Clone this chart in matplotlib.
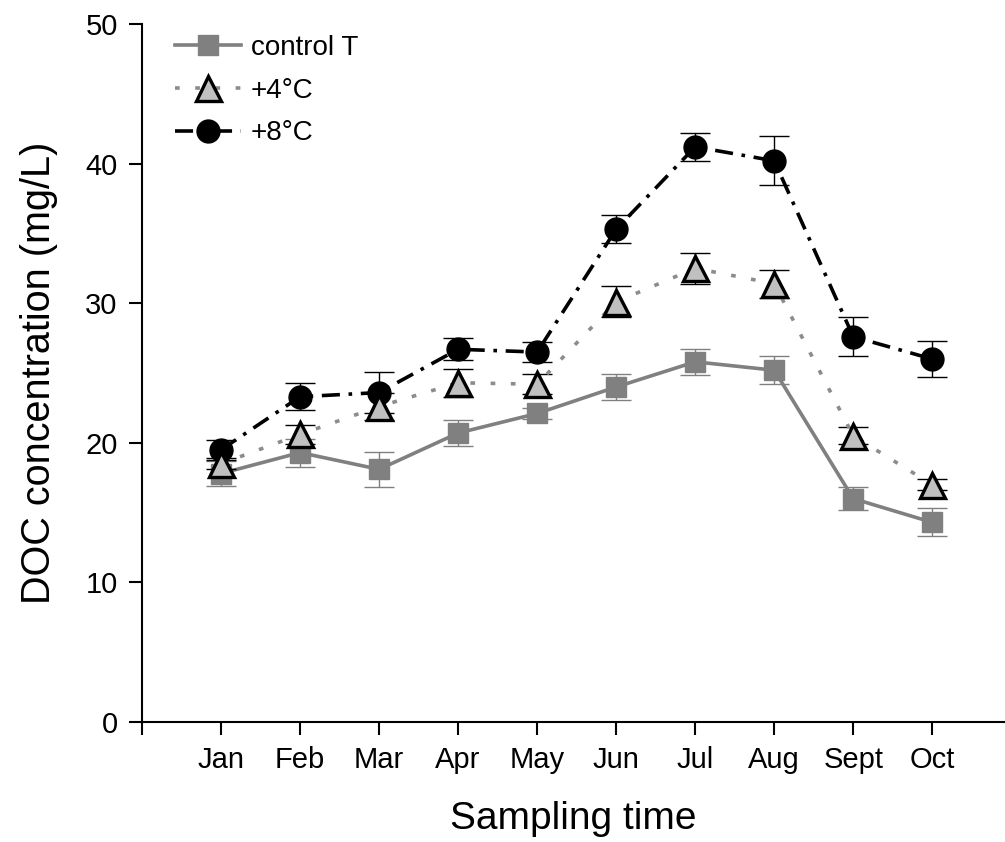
import matplotlib
matplotlib.use("Agg")
import matplotlib.pyplot as plt

plt.rcParams['font.family'] = ['Liberation Sans', 'DejaVu Sans']

months = ["Jan", "Feb", "Mar", "Apr", "May", "Jun", "Jul", "Aug", "Sept", "Oct"]
xpos = [1, 2, 3, 4, 5, 6, 7, 8, 9, 10]

control = [17.8, 19.3, 18.1, 20.7, 22.1, 24.0, 25.8, 25.2, 16.0, 14.3]
control_err = [0.9, 1.0, 1.25, 0.9, 0.4, 0.9, 0.95, 1.0, 0.8, 1.0]
plus4 = [18.5, 20.6, 22.6, 24.3, 24.2, 30.1, 32.5, 31.4, 20.5, 17.0]
plus4_err = [0.4, 0.7, 1.0, 1.0, 0.7, 1.1, 1.1, 1.0, 0.6, 0.4]
plus8 = [19.5, 23.3, 23.6, 26.7, 26.5, 35.3, 41.2, 40.2, 27.6, 26.0]
plus8_err = [0.7, 0.95, 1.5, 0.8, 0.7, 1.0, 1.0, 1.75, 1.4, 1.3]

fig = plt.figure(figsize=(10.05, 8.42), dpi=100)
ax = fig.add_axes([0.1413, 0.1425, 0.8587, 0.829])

gray = '#808080'

# control T
ax.errorbar(xpos, control, yerr=control_err, fmt='none', ecolor=gray,
            elinewidth=1.0, capsize=11, capthick=1.0, zorder=2)
l1, = ax.plot(xpos, control, color=gray, lw=2.6, marker='s', markersize=15,
              markerfacecolor=gray, markeredgecolor=gray, zorder=3,
              label='control T')

# +8
ax.errorbar(xpos, plus8, yerr=plus8_err, fmt='none', ecolor='black',
            elinewidth=1.0, capsize=11, capthick=1.0, zorder=4)
l3, = ax.plot(xpos, plus8, color='black', lw=2.6, marker='o', markersize=16.5,
              markerfacecolor='black', markeredgecolor='black', zorder=5,
              label='+8\u00b0C', dashes=(5, 2.4, 1.0, 2.4))

# +4
ax.errorbar(xpos, plus4, yerr=plus4_err, fmt='none', ecolor='black',
            elinewidth=1.0, capsize=11, capthick=1.0, zorder=6)
l2, = ax.plot(xpos, plus4, color='#8c8c8c', lw=2.6, marker='^', markersize=18,
              markerfacecolor='#c0c0c0', markeredgecolor='black',
              markeredgewidth=2.4, zorder=7, label='+4\u00b0C',
              dashes=(1.3, 4.3))

ax.set_xlim(0, 10.92)
ax.set_ylim(0, 50)
ax.set_xticks([0] + xpos)
ax.set_xticklabels([''] + months)
ax.set_yticks([0, 10, 20, 30, 40, 50])

for s in ['top', 'right']:
    ax.spines[s].set_visible(False)
for s in ['left', 'bottom']:
    ax.spines[s].set_linewidth(1.5)

ax.tick_params(axis='both', direction='out', length=9.5, width=1.5,
               labelsize=21)
ax.tick_params(axis='y', pad=8)
ax.tick_params(axis='x', pad=8)

ax.set_xlabel('Sampling time', fontsize=28, labelpad=19)
ax.set_ylabel('DOC concentration (mg/L)', fontsize=28.5, labelpad=20)

ax.legend(handles=[l1, l2, l3], loc='upper left', frameon=False, fontsize=20,
          handlelength=2.4, handletextpad=0.35, labelspacing=0.6,
          borderaxespad=0.0, bbox_to_anchor=(0.025, 1.0))

fig.savefig('out.png', dpi=100)
